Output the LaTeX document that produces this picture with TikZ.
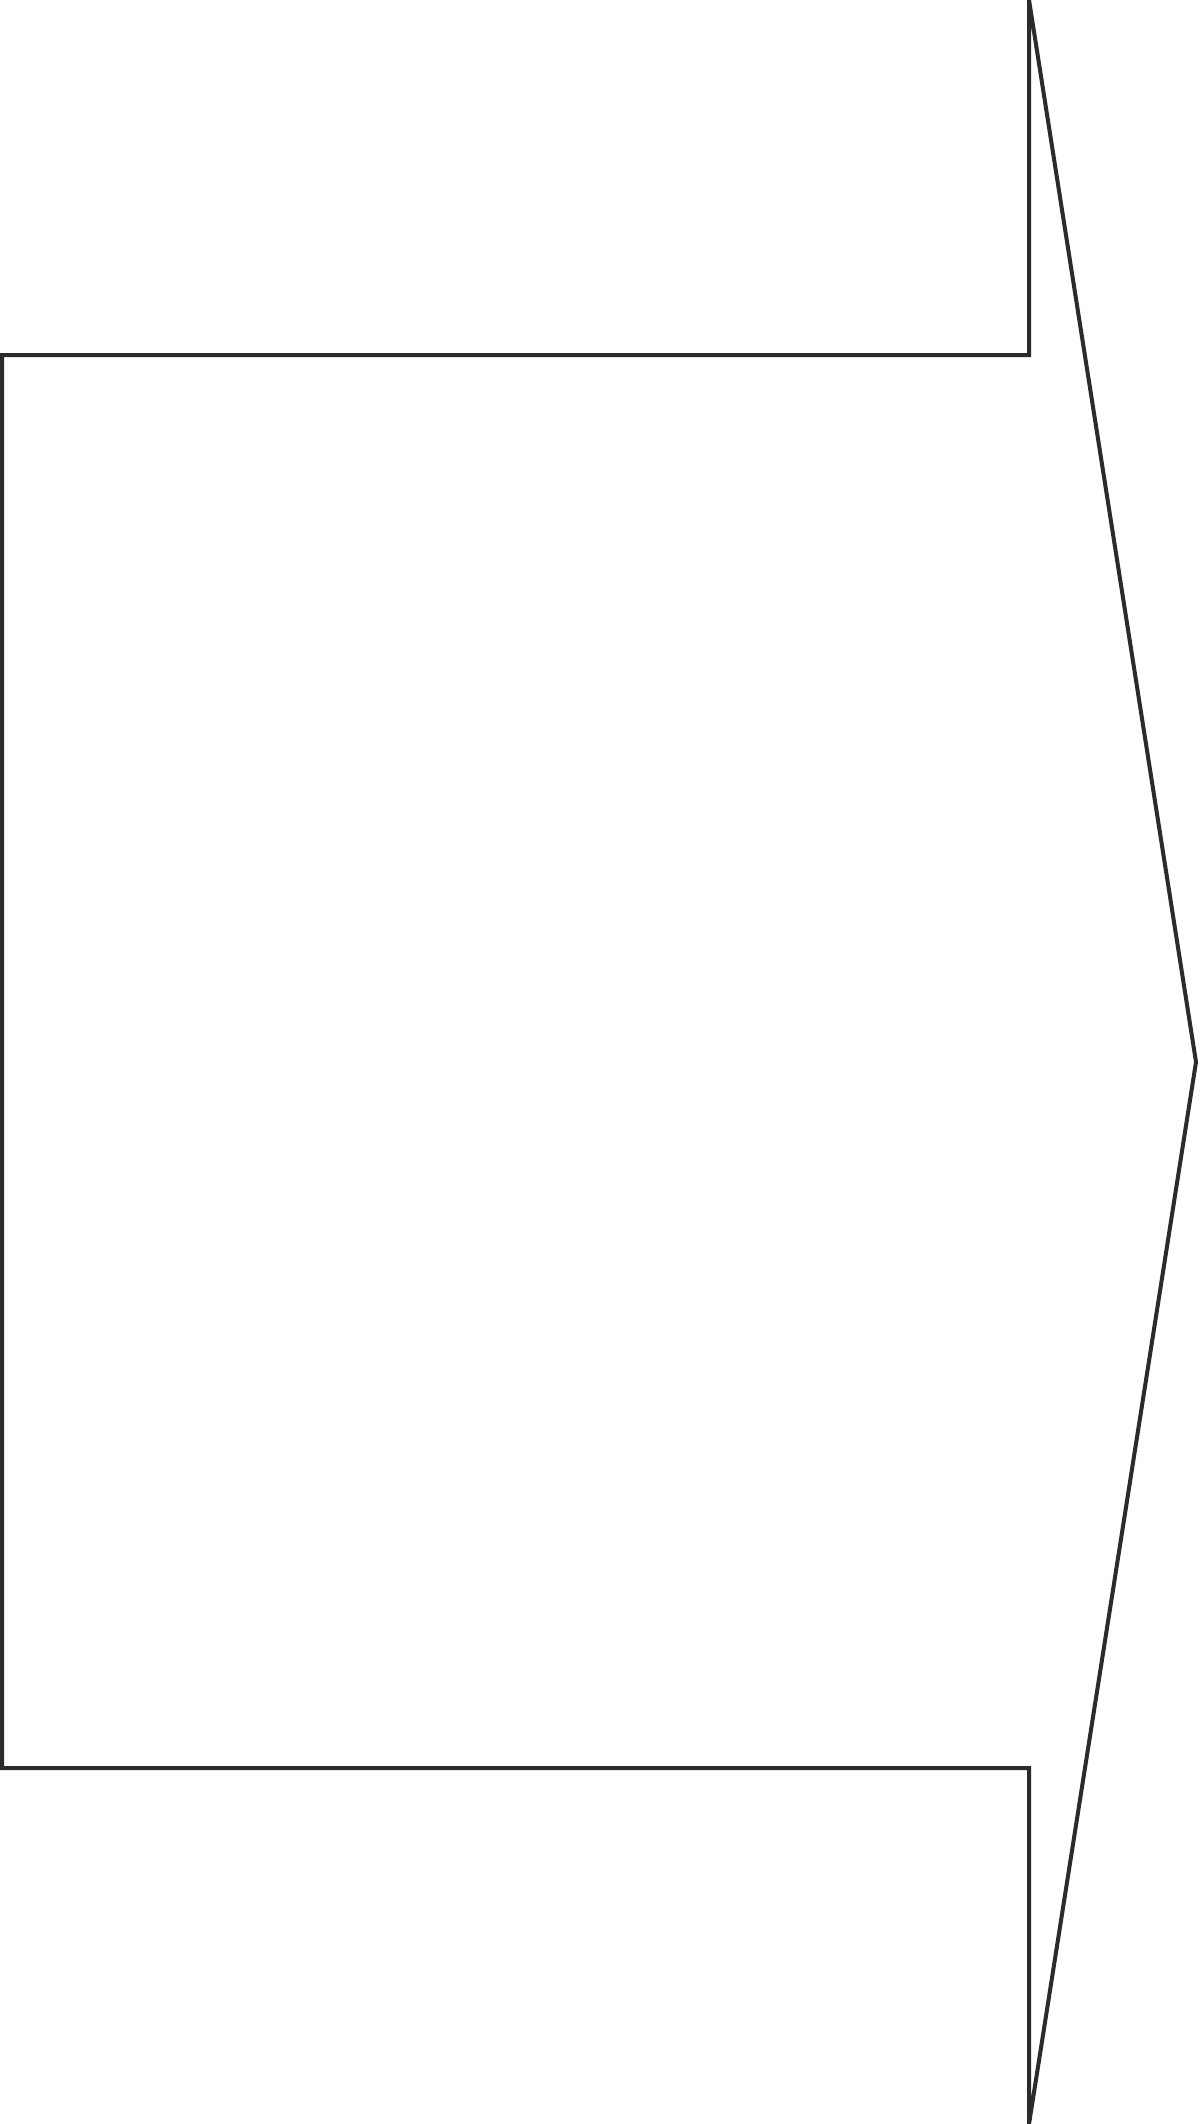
\documentclass[tikz,border=0pt]{standalone}
\usepackage{xcolor}
\usetikzlibrary{calc}

\definecolor{outline}{HTML}{2B2B2B}

\begin{document}
\begin{tikzpicture}[x=0.01cm, y=-0.01cm,
	arrowline/.style={draw=outline, line width=0.04cm, line join=miter, miter limit=4}]
	\useasboundingbox (0,0) rectangle (1200,2124);
	
	\coordinate (ST) at (2,355);
	\coordinate (SB) at (2,1768);
	\coordinate (HT) at (1029,0);
	\coordinate (HB) at (1029,2124);
	\coordinate (TIP) at (1196,1062);
	
	\draw[arrowline] 
	    (ST) -- (ST -| HT) -- (HT) -- (TIP) -- (HB) -- (SB -| HB) -- (SB) -- cycle;
\end{tikzpicture}
\end{document}
